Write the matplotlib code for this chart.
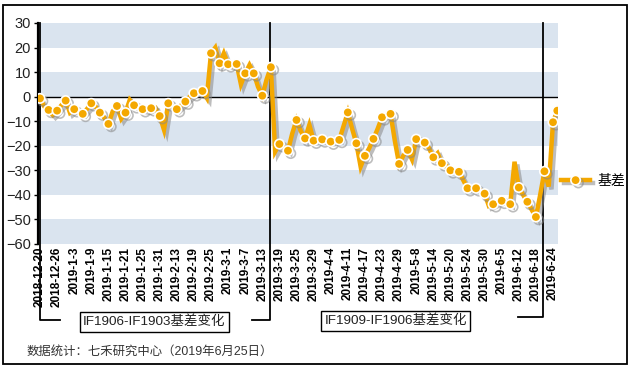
import matplotlib
matplotlib.use("Agg")
import matplotlib.pyplot as plt
import matplotlib.patheffects as pe
from matplotlib.patches import Rectangle

plt.rcParams['font.family'] = ['Liberation Sans', 'Noto Sans CJK SC', 'DejaVu Sans']

# trading days, 2018-12-20 .. 2019-6-25
months = [
    ("2018-12", [20, 21, 24, 25, 26, 27, 28]),
    ("2019-1", [2, 3, 4, 7, 8, 9, 10, 11, 14, 15, 16, 17, 18, 21, 22, 23, 24, 25, 28, 29, 30, 31]),
    ("2019-2", [1, 11, 12, 13, 14, 15, 18, 19, 20, 21, 22, 25, 26, 27, 28]),
    ("2019-3", [1, 4, 5, 6, 7, 8, 11, 12, 13, 14, 15, 18, 19, 20, 21, 22, 25, 26, 27, 28, 29]),
    ("2019-4", [1, 2, 3, 4, 8, 9, 10, 11, 12, 15, 16, 17, 18, 19, 22, 23, 24, 25, 26, 29, 30]),
    ("2019-5", [6, 7, 8, 9, 10, 13, 14, 15, 16, 17, 20, 21, 22, 23, 24, 27, 28, 29, 30, 31]),
    ("2019-6", [3, 4, 5, 6, 10, 11, 12, 13, 14, 17, 18, 19, 20, 21, 24, 25]),
]
dates = [f"{m}-{d}" for m, days in months for d in days]

basis = [
    -0.7, -4, -5.4, -7.5, -5.7, -3.5, -1.6, -6.5, -5.1, -6.5,
    -7.0, -5, -2.7, -4, -6.5, -8.5, -11.1, -6, -3.8, -9,
    -6.5, -1.3, -3.5, -4.5, -5.1, -5.5, -4.7, -4.5, -7.9, -13.5,
    -2.7, -4, -5.1, -3.5, -2.0, 0, 1.4, 2, 2.3, -0.5,
    17.7, 20, 13.6, 17.7, 13.2, 12.5, 13.3, 5, 9.5, 12.9,
    9.5, 4, 0.4, 7, 12, -22.4, -19.3, -20.5, -22, -15,
    -9.5, -14, -17, -11.5, -17.9, -17.5, -17.4, -18, -18.3, -18,
    -17.6, -12, -6.4, -13, -19, -28.5, -24.1, -21, -17.2, -13,
    -8.4, -7.5, -7, -18, -27.4, -24, -21.7, -25.5, -17.3, -17.5,
    -18.7, -21, -24.7, -23, -27.1, -28, -30, -30, -30.6, -34,
    -37.3, -37.5, -37.3, -38, -39.5, -44.5, -43.8, -43, -42.4, -43,
    -43.8, -26.5, -37, -40, -42.8, -46, -49, -40, -30.4, -36.6,
    -10.4, -5.7,
]
marked = list(range(0, 121, 2)) + [121]

label_step = 4
split_1 = 53.9   # IF1903 -> IF1906 roll
split_2 = 117.7  # IF1906 -> IF1909 roll
orange = '#F4A800'
band = '#DAE4EF'

fig = plt.figure(figsize=(6.36, 3.68), dpi=100)
ax = fig.add_axes([38 / 636, 124 / 368, 520 / 636, 221 / 368])

x = list(range(len(basis)))
ax.set_xlim(-0.47, 121.17)
ax.set_ylim(-60, 30)
for lo in range(-60, 30, 20):
    ax.axhspan(lo, lo + 10, color=band, lw=0, zorder=0)
ax.axhline(0, color='k', lw=1, zorder=1)

shadow = [pe.SimpleLineShadow(offset=(2, -2), shadow_color='#888888', alpha=0.55), pe.Normal()]
ax.plot(x, basis, color=orange, lw=3.2, marker='o', markevery=marked, ms=6.8,
        mfc=orange, mec='white', mew=1.2, solid_joinstyle='miter',
        path_effects=shadow, label='基差', zorder=3)

ax.set_yticks(range(-60, 31, 10))
ax.set_xticks(x[::label_step])
ax.set_xticklabels(dates[::label_step], rotation=90, fontsize=8.5, fontweight='bold')
ax.tick_params(axis='x', length=0, pad=2)
ax.tick_params(axis='y', length=3, width=1, labelsize=10.5, pad=2, labelcolor='#222222')
for side in ['top', 'right', 'bottom']:
    ax.spines[side].set_visible(False)
ax.spines['left'].set_linewidth(1.6)


def ypx(row):
    return (244 - row) / 221


tr = ax.get_xaxis_transform()
kw = dict(transform=tr, clip_on=False, color='k', lw=1.3, zorder=2)
ax.plot([0.1, 0.1, 4.7], [1, ypx(320), ypx(320)], **kw)
ax.plot([49.6, split_1, split_1], [ypx(320), ypx(320), 1], **kw)
ax.plot([111.8, split_2, split_2], [ypx(317), ypx(317), 1], **kw)

box = dict(boxstyle='square,pad=0.25', fc='white', ec='k', lw=1)
ax.text(26.7, ypx(322), 'IF1906-IF1903基差变化', transform=tr, ha='center', va='center',
        fontsize=9.7, color='#222222', bbox=box)
ax.text(83.2, ypx(321), 'IF1909-IF1906基差变化', transform=tr, ha='center', va='center',
        fontsize=9.7, color='#222222', bbox=box)

ax.legend(loc='center left', bbox_to_anchor=(561 / 636, 1 - 181 / 368), bbox_transform=fig.transFigure,
          frameon=False, borderaxespad=0, borderpad=0, handlelength=2.1, handletextpad=0.5,
          prop={'size': 10})

fig.text(27 / 636, 1 - 352 / 368, '数据统计：七禾研究中心（2019年6月25日）', fontsize=8.9,
         color='#333333', va='center', ha='left')
fig.patches.append(Rectangle((2.5 / 636, 4.5 / 368), 624.5 / 636, 359 / 368, fill=False,
                             ec='k', lw=1.3, transform=fig.transFigure))

fig.savefig('out.png', dpi=100)
